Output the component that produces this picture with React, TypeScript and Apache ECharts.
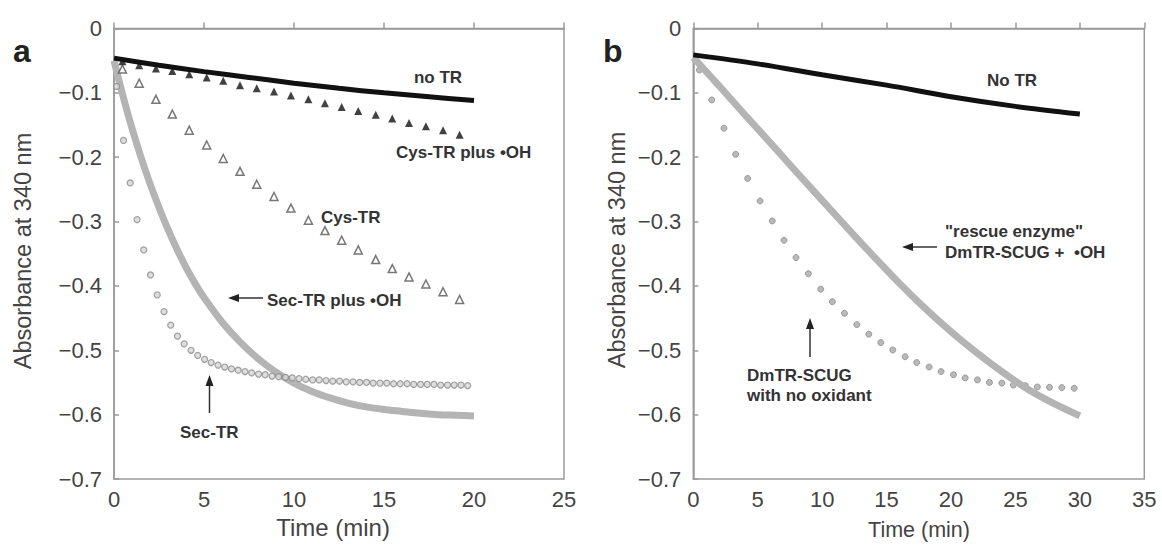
import React, { useEffect, useRef } from "react";
import * as echarts from "echarts";

// ---------- Panel a data ----------
const noTRaTimes = [0, 2.5, 5, 7.5, 10, 12.5, 15, 17.5, 20];
const noTRaValues = [-0.046, -0.057, -0.067, -0.076, -0.085, -0.093, -0.1, -0.106, -0.112];

const cysTimes = [0.47, 1.4, 2.33, 3.24, 4.18, 5.15, 6.07, 7.0, 7.93, 8.89, 9.83, 10.8, 11.72, 12.65, 13.57, 14.54, 15.46, 16.39, 17.33, 18.28, 19.2];
const cysOHValues = [-0.051, -0.057, -0.062, -0.066, -0.071, -0.076, -0.081, -0.088, -0.093, -0.098, -0.104, -0.11, -0.116, -0.122, -0.128, -0.134, -0.14, -0.147, -0.152, -0.158, -0.165];
const cysValues = [-0.063, -0.085, -0.11, -0.133, -0.158, -0.181, -0.202, -0.222, -0.242, -0.261, -0.279, -0.298, -0.314, -0.329, -0.344, -0.359, -0.373, -0.386, -0.397, -0.409, -0.421];

const secOHTimes = [0, 0.5, 1, 1.5, 2, 2.5, 3, 3.5, 4, 4.5, 5, 6, 7, 8, 9, 10, 11, 12, 13, 14, 15, 16, 17, 18, 19, 20];
const secOHValues = [-0.05, -0.105, -0.155, -0.2, -0.241, -0.278, -0.312, -0.343, -0.371, -0.396, -0.418, -0.456, -0.487, -0.513, -0.534, -0.551, -0.564, -0.574, -0.582, -0.588, -0.592, -0.595, -0.598, -0.6, -0.601, -0.602];

const secTimes = [0.15, 0.53, 0.9, 1.28, 1.65, 2.03, 2.4, 2.78, 3.15, 3.53, 3.9, 4.28, 4.65, 5.03, 5.4, 5.78, 6.15, 6.53, 6.9, 7.28, 7.65, 8.03, 8.4, 8.78, 9.15, 9.53, 9.9, 10.28, 10.65, 11.03, 11.4, 11.78, 12.15, 12.53, 12.9, 13.28, 13.65, 14.03, 14.4, 14.78, 15.15, 15.53, 15.9, 16.28, 16.65, 17.03, 17.4, 17.78, 18.15, 18.53, 18.9, 19.28, 19.65];
const secValues = [-0.09, -0.174, -0.24, -0.297, -0.344, -0.383, -0.414, -0.44, -0.461, -0.478, -0.49, -0.5, -0.508, -0.514, -0.519, -0.523, -0.526, -0.529, -0.531, -0.533, -0.535, -0.537, -0.538, -0.54, -0.541, -0.542, -0.543, -0.544, -0.545, -0.546, -0.546, -0.547, -0.548, -0.548, -0.549, -0.549, -0.55, -0.55, -0.551, -0.551, -0.551, -0.552, -0.552, -0.552, -0.553, -0.553, -0.553, -0.553, -0.554, -0.554, -0.554, -0.554, -0.555];

// ---------- Panel b data ----------
const noTRbTimes = [0, 5, 10, 15, 20, 25, 30];
const noTRbValues = [-0.041, -0.055, -0.072, -0.088, -0.106, -0.121, -0.133];

const rescueTimes = [0, 2, 4, 6, 8, 10, 12, 14, 16, 18, 20, 22, 24, 26, 28, 30];
const rescueValues = [-0.045, -0.089, -0.134, -0.178, -0.223, -0.267, -0.311, -0.354, -0.396, -0.435, -0.471, -0.504, -0.534, -0.561, -0.583, -0.602];

const scugTimes = [0.47, 1.43, 2.38, 3.29, 4.22, 5.18, 6.13, 7.04, 7.97, 8.93, 9.89, 10.79, 11.73, 12.69, 13.62, 14.55, 15.48, 16.44, 17.34, 18.3, 19.23, 20.19, 21.1, 22.05, 22.98, 23.94, 24.84, 25.77, 26.7, 27.64, 28.6, 29.56];
const scugValues = [-0.0645, -0.111, -0.155, -0.1955, -0.233, -0.268, -0.299, -0.329, -0.356, -0.381, -0.405, -0.4245, -0.4425, -0.46, -0.475, -0.488, -0.4995, -0.51, -0.519, -0.526, -0.533, -0.538, -0.543, -0.546, -0.55, -0.551, -0.554, -0.555, -0.557, -0.5575, -0.558, -0.559];

// ---------- Axis ticks ----------
const yMin = -0.7;
const yMax = 0;
const yStep = 0.1;
const xMaxA = 25;
const xMaxB = 35;
const xStep = 5;

const FONT = '"Liberation Sans", Arial, Helvetica, sans-serif';
const AXIS_GRAY = "#9a9a9a";
const LABEL = "#444";
const ANN = "#333";

const zip = (xs: number[], ys: number[]) => xs.map((x, i) => [x, ys[i]]);

function xAxisCfg(gridIndex: number, max: number) {
  return {
    gridIndex,
    type: "value",
    min: 0,
    max,
    interval: xStep,
    axisLine: { show: true, lineStyle: { color: AXIS_GRAY, width: 1.5 } },
    axisTick: { show: true, inside: true, length: 6, lineStyle: { color: AXIS_GRAY, width: 1.5 } },
    axisLabel: { color: LABEL, fontSize: 22, fontFamily: FONT, margin: 9, showMinLabel: true, showMaxLabel: true },
    splitLine: { show: false },
  };
}

function yAxisCfg(gridIndex: number) {
  return {
    gridIndex,
    type: "value",
    min: yMin,
    max: yMax,
    interval: yStep,
    axisLine: { show: true, lineStyle: { color: AXIS_GRAY, width: 1.5 } },
    axisTick: { show: true, inside: true, length: 5, lineStyle: { color: AXIS_GRAY, width: 1.5 } },
    axisLabel: {
      color: LABEL,
      fontSize: 22,
      fontFamily: FONT,
      margin: 12,
      showMinLabel: true,
      showMaxLabel: true,
      formatter: (v: number) => (Math.abs(v) < 1e-9 ? "0" : "\u2212" + Math.abs(v).toFixed(1)),
    },
    splitLine: { show: false },
  };
}

function txt(x: number, y: number, text: string, opts: any = {}) {
  const align = opts.align || "left";
  const va = opts.va || "middle";
  return {
    type: "text",
    x,
    y,
    rotation: opts.rotation || 0,
    z: 100,
    style: {
      text,
      fill: opts.fill || ANN,
      font: opts.font || `bold 17px ${FONT}`,
      align,
      verticalAlign: va,
      textAlign: align,
      textVerticalAlign: va,
    },
  };
}

function arrowH(xFrom: number, xTip: number, y: number) {
  return [
    { type: "line", z: 100, shape: { x1: xFrom, y1: y, x2: xTip + 8, y2: y }, style: { stroke: "#333", lineWidth: 1.5 } },
    { type: "polygon", z: 100, shape: { points: [[xTip, y], [xTip + 11, y - 4], [xTip + 11, y + 4]] }, style: { fill: "#222" } },
  ];
}

function arrowV(x: number, yFrom: number, yTip: number) {
  return [
    { type: "line", z: 100, shape: { x1: x, y1: yFrom, x2: x, y2: yTip + 8 }, style: { stroke: "#333", lineWidth: 1.5 } },
    { type: "polygon", z: 100, shape: { points: [[x, yTip], [x - 4, yTip + 11], [x + 4, yTip + 11]] }, style: { fill: "#222" } },
  ];
}

export default function App() {
  const ref = useRef<HTMLDivElement>(null);

  useEffect(() => {
    if (!ref.current) return;
    const chart = echarts.init(ref.current, null, { renderer: "svg", width: 1162, height: 545 });

    const option: any = {
      animation: false,
      backgroundColor: "#ffffff",
      grid: [
        { left: 114, top: 28.5, width: 450, height: 450.5, show: true, borderColor: AXIS_GRAY, borderWidth: 1.5, backgroundColor: "transparent" },
        { left: 693.3, top: 28.5, width: 451, height: 450.5, show: true, borderColor: AXIS_GRAY, borderWidth: 1.5, backgroundColor: "transparent" },
      ],
      xAxis: [xAxisCfg(0, xMaxA), xAxisCfg(1, xMaxB)],
      yAxis: [yAxisCfg(0), yAxisCfg(1)],
      series: [
        // Panel a
        {
          name: "Sec-TR plus •OH",
          type: "line",
          xAxisIndex: 0,
          yAxisIndex: 0,
          data: zip(secOHTimes, secOHValues),
          smooth: 0.3,
          showSymbol: false,
          lineStyle: { color: "#b4b4b4", width: 7 },
          z: 2,
        },
        {
          name: "Sec-TR",
          type: "scatter",
          xAxisIndex: 0,
          yAxisIndex: 0,
          data: zip(secTimes, secValues),
          symbol: "circle",
          symbolSize: 6,
          itemStyle: { color: "#d6d6d6", borderColor: "#8a8a8a", borderWidth: 1.2 },
          z: 3,
        },
        {
          name: "Cys-TR",
          type: "scatter",
          xAxisIndex: 0,
          yAxisIndex: 0,
          data: zip(cysTimes, cysValues),
          symbol: "triangle",
          symbolSize: 8,
          itemStyle: { color: "#ffffff", borderColor: "#555", borderWidth: 1.5 },
          z: 3,
        },
        {
          name: "Cys-TR plus •OH",
          type: "scatter",
          xAxisIndex: 0,
          yAxisIndex: 0,
          data: zip(cysTimes, cysOHValues),
          symbol: "triangle",
          symbolSize: 8,
          itemStyle: { color: "#111" },
          z: 3,
        },
        {
          name: "no TR",
          type: "line",
          xAxisIndex: 0,
          yAxisIndex: 0,
          data: zip(noTRaTimes, noTRaValues),
          smooth: 0.3,
          showSymbol: false,
          lineStyle: { color: "#111", width: 5 },
          z: 4,
        },
        // Panel b
        {
          name: "DmTR-SCUG with no oxidant",
          type: "scatter",
          xAxisIndex: 1,
          yAxisIndex: 1,
          data: zip(scugTimes, scugValues),
          symbol: "circle",
          symbolSize: 6,
          itemStyle: { color: "#a8a8a8", borderColor: "#8c8c8c", borderWidth: 1 },
          z: 2,
        },
        {
          name: "rescue enzyme DmTR-SCUG + •OH",
          type: "line",
          xAxisIndex: 1,
          yAxisIndex: 1,
          data: zip(rescueTimes, rescueValues),
          smooth: 0.3,
          showSymbol: false,
          lineStyle: { color: "#b4b4b4", width: 7 },
          z: 3,
        },
        {
          name: "No TR",
          type: "line",
          xAxisIndex: 1,
          yAxisIndex: 1,
          data: zip(noTRbTimes, noTRbValues),
          smooth: 0.3,
          showSymbol: false,
          lineStyle: { color: "#111", width: 5 },
          z: 4,
        },
      ],
      graphic: [
        // panel letters
        txt(13, 35, "a", { font: `bold 32px ${FONT}`, fill: "#222", va: "alphabetic" }),
        txt(603, 35, "b", { font: `bold 32px ${FONT}`, fill: "#222", va: "alphabetic" }),
        // axis names
        txt(23, 251, "Absorbance at 340 nm", { font: `23.5px ${FONT}`, fill: LABEL, align: "center", rotation: Math.PI / 2 }),
        txt(617, 250, "Absorbance at 340 nm", { font: `23.5px ${FONT}`, fill: LABEL, align: "center", rotation: Math.PI / 2 }),
        txt(333, 527, "Time (min)", { font: `24px ${FONT}`, fill: LABEL, align: "center" }),
        txt(919, 530, "Time (min)", { font: `21.5px ${FONT}`, fill: LABEL, align: "center" }),
        // panel a annotations
        txt(438, 77, "no TR", { align: "center" }),
        txt(396, 152, "Cys-TR plus \u2022OH"),
        txt(321, 217, "Cys-TR"),
        txt(267, 300, "Sec-TR plus \u2022OH"),
        ...arrowH(263, 228, 298),
        txt(180, 432, "Sec-TR"),
        ...arrowV(209.5, 413, 375),
        // panel b annotations
        txt(987, 80, "No TR"),
        txt(945, 231, "\"rescue enzyme\""),
        txt(945, 252, "DmTR-SCUG +  \u2022OH"),
        ...arrowH(937, 902, 247),
        txt(747, 375, "DmTR-SCUG"),
        txt(747, 395, "with no oxidant"),
        ...arrowV(810, 357, 318),
      ],
    };

    chart.setOption(option);
    return () => {
      chart.dispose();
    };
  }, []);

  return (
    <div
      ref={ref}
      style={{ position: "fixed", left: 0, top: 0, width: 1162, height: 545, background: "#fff" }}
    />
  );
}
